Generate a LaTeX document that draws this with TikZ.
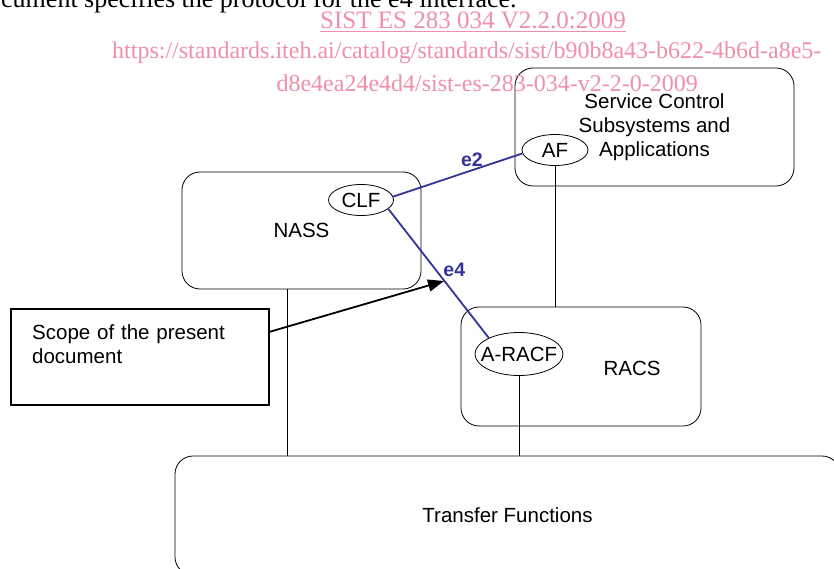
\documentclass[tikz,border=0pt]{standalone}
\usepackage{fontspec}
\setmainfont{Liberation Sans}
\newfontfamily\wmfont{Liberation Serif}
\usetikzlibrary{calc,shapes.geometric,arrows.meta}
\definecolor{ifblue}{RGB}{51,51,153}
\definecolor{wmpink}{RGB}{239,143,170}
\tikzset{
	box/.style={draw, rounded corners=18pt, line width=0.8pt, font=\fontsize{20.5}{24}\selectfont, align=center},
	fn/.style={draw, ellipse, inner sep=0pt, line width=0.8pt},
	lbl/.style={font=\fontsize{20.5}{24}\selectfont, inner sep=0pt},
	ref/.style={line width=1.8pt, color=ifblue},
	reflabel/.style={color=ifblue, inner sep=0pt, font=\bfseries\fontsize{19.5}{22}\selectfont},
	link/.style={line width=0.8pt},
	wm/.style={color=wmpink, inner sep=0pt},
}

\begin{document}
\begin{tikzpicture}[x=1pt, y=-1pt]
			%%%%% START %%%%%
			\useasboundingbox (0,0) rectangle (834,569);
			
			\node[anchor=base west, inner sep=0pt, font=\wmfont\fontsize{26}{30}\selectfont] (intro) at (1,8) {cument specifies the protocol for the e4 interface.};
			
			\node[box, minimum width=279pt, minimum height=118pt] (scs) at (654.5,127) {Service Control\\Subsystems and\\Applications};
			\node[box, minimum width=239pt, minimum height=117pt] (nass) at (301.5,230.5) {NASS};
			\node[box, minimum width=240pt, minimum height=119pt] (racs) at (581,366.5) {};
			\node[lbl, anchor=base] (racstext) at (632,375) {RACS};
			\node[box, minimum width=665pt, minimum height=119pt] (transfer) at (507.5,515.5) {Transfer Functions};
			
			\node[fn, minimum width=66pt, minimum height=31pt, label={[lbl]center:AF}] (af) at (555,150) {};
			\node[fn, minimum width=65pt, minimum height=31pt, label={[lbl]center:CLF}] (clf) at (361,200) {};
			\node[fn, minimum width=88pt, minimum height=43pt, label={[lbl]center:A-RACF}] (aracf) at (519,354) {};
			
			\draw[ref] (clf.6) -- (af.186) node[reflabel, pos=0.61, above=3pt] {e2};
			\draw[ref] (clf.-18) -- (aracf.152) node[reflabel, pos=0.47, right=7pt] {e4};
			
			\coordinate (nassfoot) at ($(nass.south west)+(106,0)$);
			\draw[link] (nassfoot) -- (nassfoot |- transfer.north);
			\draw[link] (af.south) -- (af.south |- racs.north);
			\draw[link] (aracf.south) -- (aracf.south |- transfer.north);
			
			\node[draw, line width=1.5pt, minimum width=258pt, minimum height=96pt] (scope) at (140,357) {};
			\node[lbl, anchor=base west, text width=230pt, align=left] (scopetext) at (32,339) {Scope of the present\\document};
			\coordinate (scopetip) at (444,281);
			\draw[line width=1.8pt, -{Triangle[length=16pt,width=12pt]}] (scope.11) -- (scopetip);
			
			\node[wm, anchor=base, font=\wmfont\fontsize{25}{28}\selectfont] (wmtitle) at (473,29) {\underline{SIST ES 283 034 V2.2.0:2009}};
			\node[wm, anchor=base west, font=\wmfont\fontsize{24}{28}\selectfont] (wmurl) at (112,59) {https://standards.iteh.ai/catalog/standards/sist/b90b8a43-b622-4b6d-a8e5-};
			\node[wm, anchor=base east, font=\wmfont\fontsize{24}{28}\selectfont] (wmid) at (698,92) {d8e4ea24e4d4/sist-es-283-034-v2-2-0-2009};
			
			%%%%% END %%%%%
\end{tikzpicture}
\end{document}
